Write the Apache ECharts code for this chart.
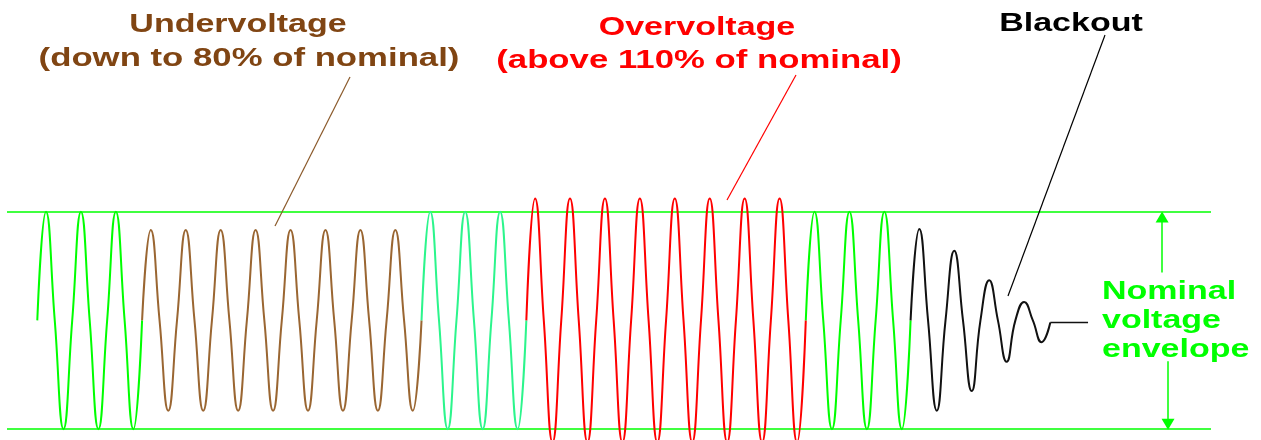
<!DOCTYPE html>
<html>
<head>
<meta charset="utf-8">
<script src="https://cdn.jsdelivr.net/npm/echarts@6/dist/echarts.min.js"></script>
<style>
html,body{margin:0;padding:0;background:#ffffff;}
#chart{width:1261px;height:440px;}
</style>
</head>
<body>
<div id="chart"></div>
<script>
// ---- data (time in mains cycles, voltage in per-unit of the nominal peak) ----
const segmentNames  = ['Nominal', 'Undervoltage', 'Nominal', 'Overvoltage', 'Nominal', 'Blackout'];
const segmentColors = ['#00ff00', '#9a6632', '#2cf58c', '#ff0000', '#00ff00', '#111111'];
// half-cycle extremes (peak, trough, peak, trough ...) of each segment
const nominalA  = [1, -1, 1, -1, 1, -1];
const underV    = [0.83, -0.83, 0.83, -0.83, 0.83, -0.83, 0.83, -0.83,
                   0.83, -0.83, 0.83, -0.83, 0.83, -0.83, 0.83, -0.83];
const nominalB  = [1, -1, 1, -1, 1, -1];
const overV     = [1.12, -1.12, 1.12, -1.12, 1.12, -1.12, 1.12, -1.12,
                   1.12, -1.12, 1.12, -1.12, 1.12, -1.12, 1.12, -1.12];
const nominalC  = [1, -1, 1, -1, 1, -1];
const blackout  = [0.84, -0.83, 0.64, -0.65, 0.37, -0.38, 0.17, -0.20];
const blackoutTailLevel = [-0.02, -0.02];
const blackoutTailEnd = 30.08;
const envelopeLevels = [1, -1];
const arrowTop    = [32.2, 0.44, 0.95];   // x, from, to
const arrowBottom = [32.37, -0.376, -0.955];

// labels
const underText = ['Undervoltage', '(down to 80% of nominal)'];
const overText  = ['Overvoltage', '(above 110% of nominal)'];
const blackText = ['Blackout'];
const nominalText = ['Nominal', 'voltage', 'envelope'];

// ---- build series ----
const segments = [nominalA, underV, nominalB, overV, nominalC, blackout];
const series = [];
let t0 = 0;
segments.forEach(function (ext, i) {
  const pts = [[t0, 0]];
  ext.forEach(function (v, k) {
    pts.push([t0 + k * 0.5 + 0.25, v]);
    pts.push([t0 + (k + 1) * 0.5, 0]);
  });
  t0 += ext.length * 0.5;
  if (i === segments.length - 1) {
    pts[pts.length - 1] = [t0, blackoutTailLevel[0]];
  }
  series.push({
    name: segmentNames[i],
    type: 'line',
    data: pts,
    smooth: 0.5,
    showSymbol: false,
    symbol: 'none',
    silent: true,
    z: 3,
    lineStyle: { color: segmentColors[i], width: 2 }
  });
});
series.push({
  name: 'Blackout',
  type: 'line',
  data: [[t0, blackoutTailLevel[0]], [blackoutTailEnd, blackoutTailLevel[1]]],
  showSymbol: false, symbol: 'none', silent: true, z: 3,
  lineStyle: { color: '#111111', width: 1.6 }
});
// envelope and arrows
series[0].markLine = {
  silent: true,
  z: 1,
  symbol: 'none',
  label: { show: false },
  lineStyle: { color: '#00ff00', width: 1.5, type: 'solid' },
  data: [
    { yAxis: envelopeLevels[0] },
    { yAxis: envelopeLevels[1] },
    [
      { coord: [arrowTop[0], arrowTop[1]], symbol: 'none' },
      { coord: [arrowTop[0], arrowTop[2]], symbol: 'triangle', symbolSize: [13, 11] }
    ],
    [
      { coord: [arrowBottom[0], arrowBottom[1]], symbol: 'none' },
      { coord: [arrowBottom[0], arrowBottom[2]], symbol: 'triangle', symbolSize: [13, 11] }
    ]
  ]
};

const labelFont = 'bold 25px "Liberation Sans", Arial, sans-serif';
function txt(text, x, y, color, align, sx) {
  return { type: 'text', x: x, y: y, scaleX: sx || 1.36, z: 10, silent: true,
    style: { text: text, fill: color, font: labelFont, align: align || 'center', verticalAlign: 'middle' } };
}
function leader(x1, y1, x2, y2, color) {
  return { type: 'line', z: 9, silent: true, shape: { x1: x1, y1: y1, x2: x2, y2: y2 },
    style: { stroke: color, lineWidth: 1.2 } };
}

const chart = echarts.init(document.getElementById('chart'), null, { renderer: 'canvas' });
chart.setOption({
  animation: false,
  backgroundColor: '#ffffff',
  grid: { left: 7, top: 5, width: 1204, height: 436, containLabel: false },
  xAxis: { type: 'value', min: -0.867, max: 33.6, show: false },
  yAxis: { type: 'value', min: -1.1, max: 2.9, show: false },
  series: series,
  graphic: [
    txt(underText[0], 238, 25, '#804513'),
    txt(underText[1], 249, 59, '#804513', 'center', 1.39),
    txt(overText[0], 697, 28, '#ff0000'),
    txt(overText[1], 699, 61, '#ff0000', 'center', 1.39),
    txt(blackText[0], 1071, 24, '#000000'),
    txt(nominalText[0], 1102, 292, '#00ff00', 'left'),
    txt(nominalText[1], 1102, 321, '#00ff00', 'left'),
    txt(nominalText[2], 1102, 350, '#00ff00', 'left'),
    leader(350, 77, 275, 226, '#8b5a2b'),
    leader(796, 75, 727, 200, '#ff0000'),
    leader(1105, 35, 1008, 296, '#000000')
  ]
});
</script>
</body>
</html>
